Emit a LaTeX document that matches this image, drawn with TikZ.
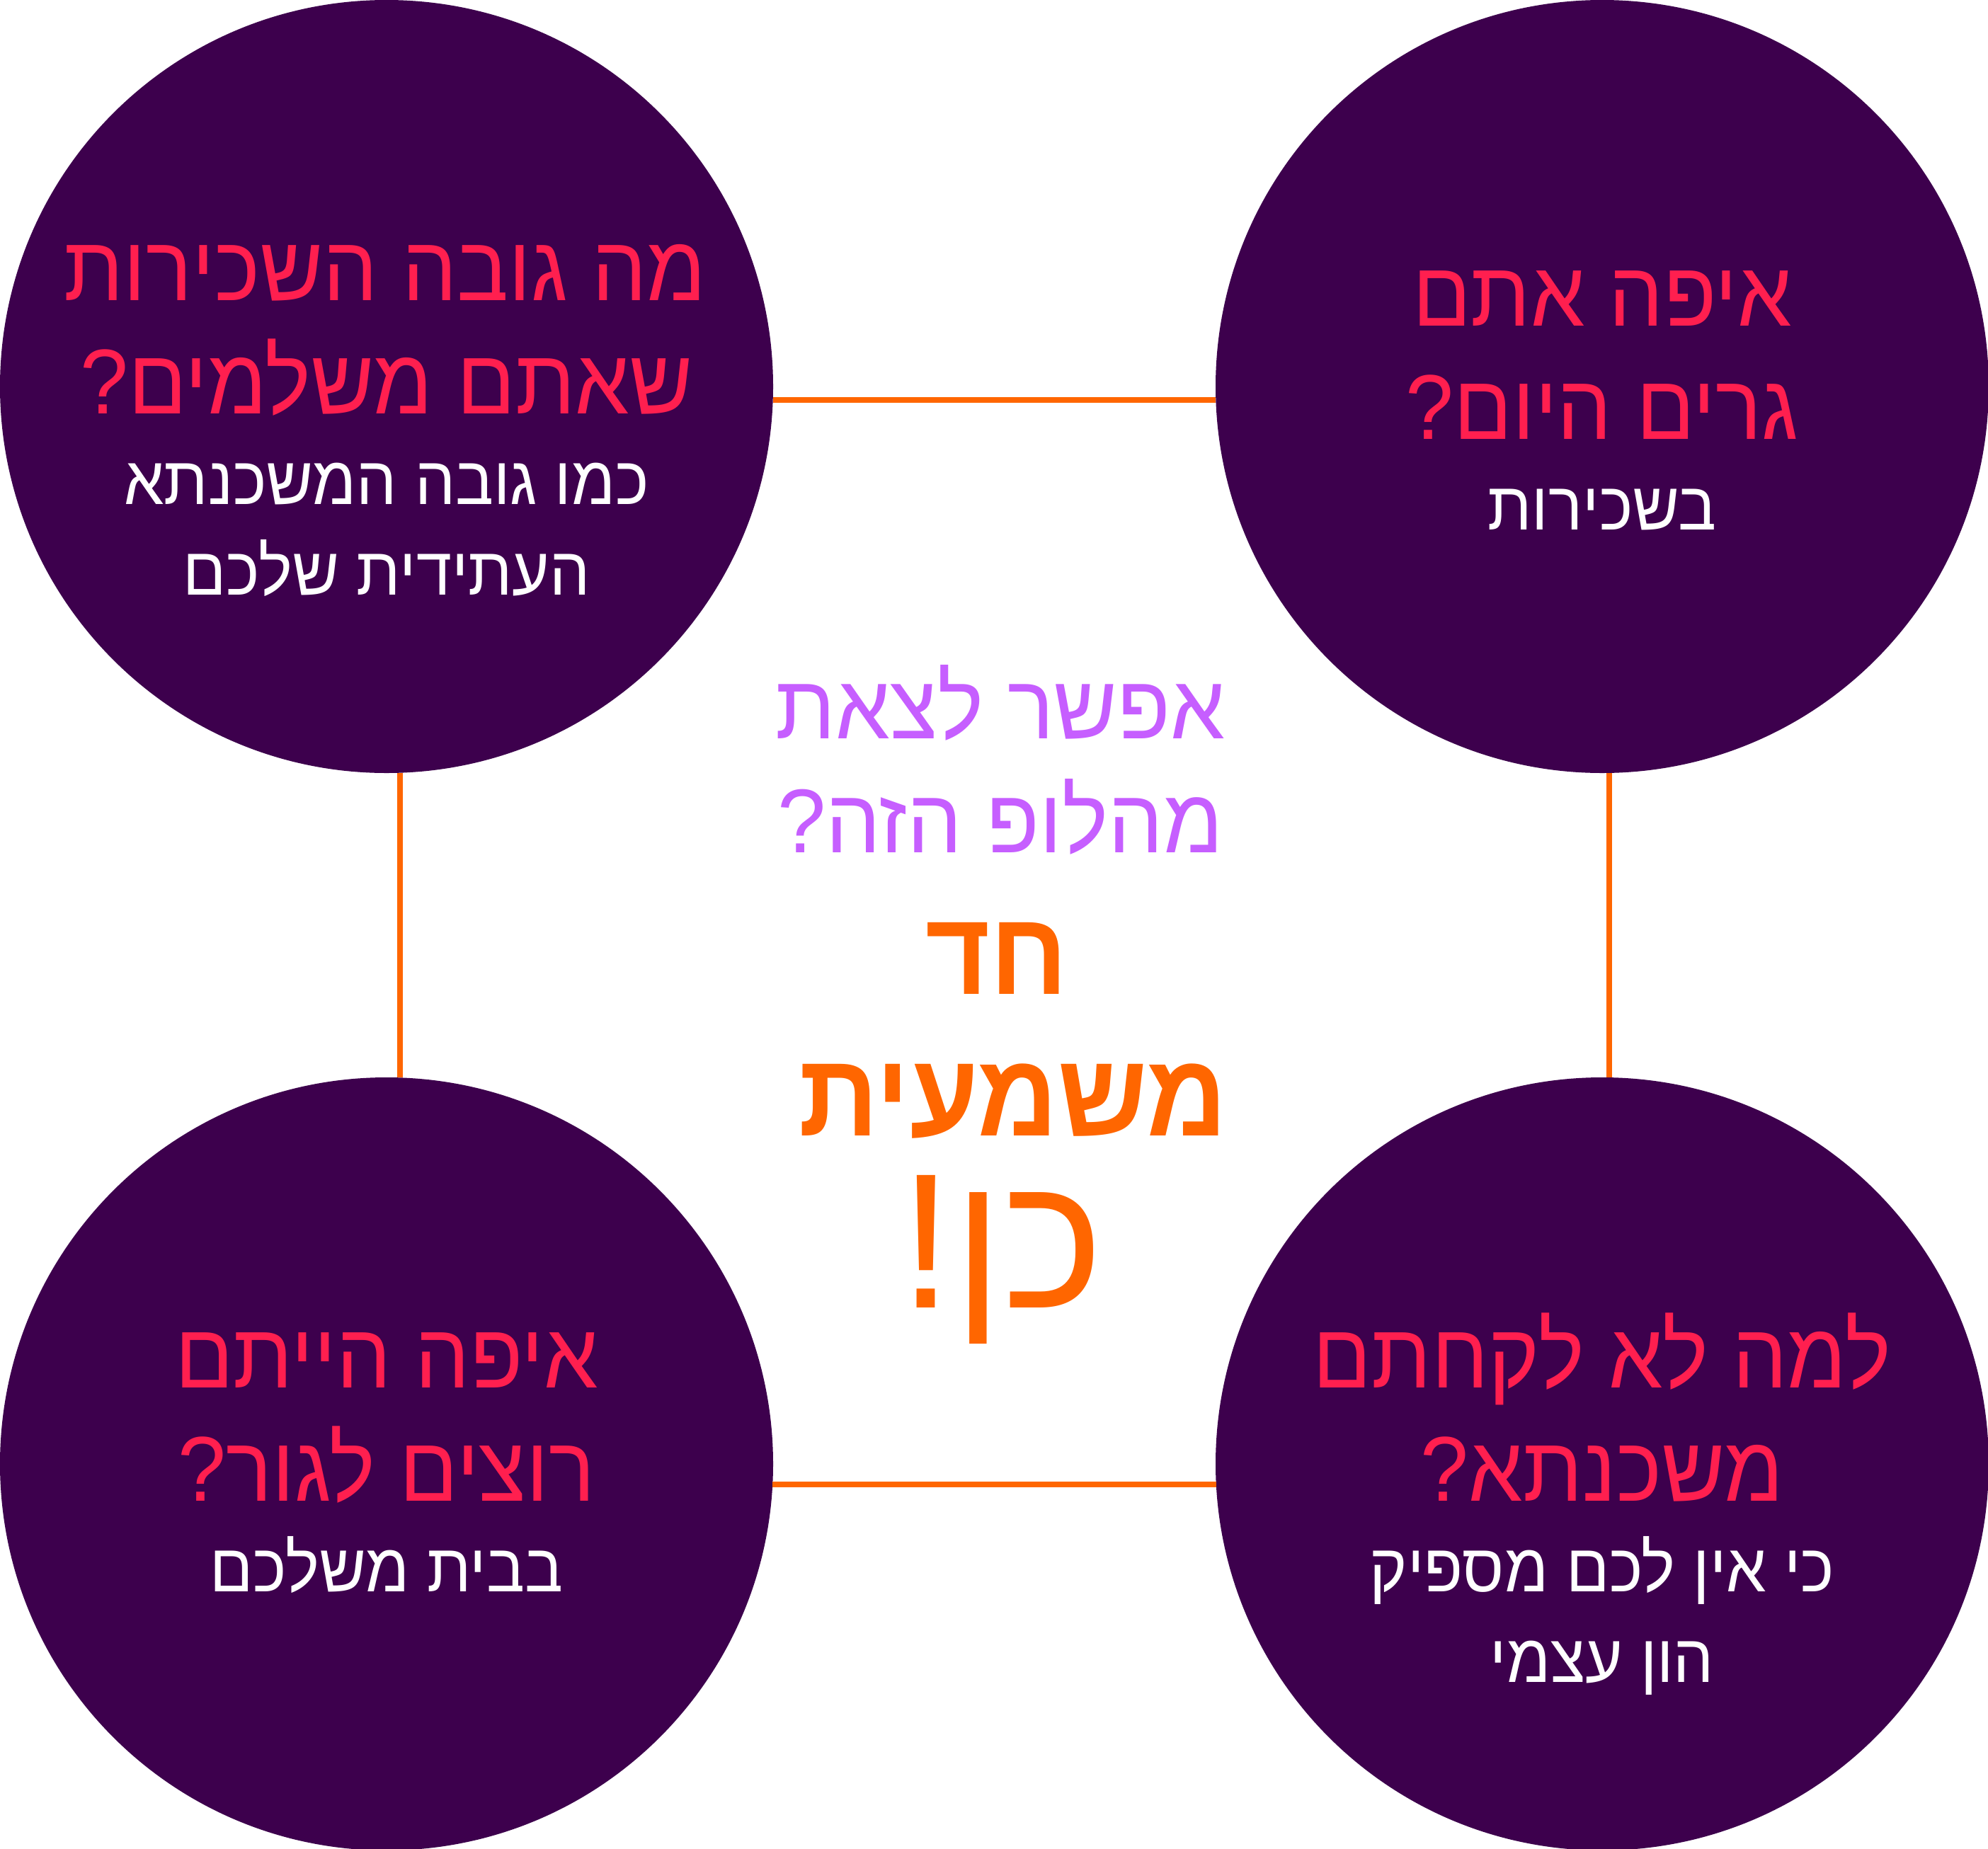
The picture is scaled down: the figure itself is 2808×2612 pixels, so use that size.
\documentclass[tikz,border=0pt]{standalone}
\usepackage{fontspec}
\newfontfamily\heb[Script=Hebrew]{Liberation Sans}
\newfontfamily\hebn[Script=Hebrew, FakeStretch=0.94]{Liberation Sans}
\newfontfamily\hebl[Script=Hebrew, FakeStretch=0.96]{Liberation Sans}
\TeXXeTstate=1
\definecolor{circfill}{HTML}{3D004D}
\definecolor{qred}{HTML}{FF1F4F}
\definecolor{lav}{HTML}{C65EFF}
\definecolor{orng}{HTML}{FF6600}
\tikzset{
  circ/.style={circle, fill=circfill, draw=none, minimum size=1092pt, inner sep=0pt, outer sep=0pt},
  link/.style={draw=orng, line width=8pt},
  qtext/.style={anchor=base, inner sep=0pt, text=qred, font=\hebn\fontsize{130}{130}\selectfont},
  atext/.style={anchor=base, inner sep=0pt, text=white, font=\hebn\fontsize{96}{96}\selectfont},
  ltext/.style={anchor=base, inner sep=0pt, text=lav, font=\hebl\fontsize{128}{128}\selectfont},
  btext/.style={anchor=base, inner sep=0pt, text=orng, font=\hebn\bfseries\fontsize{167}{167}\selectfont},
  ktext/.style={anchor=base, inner sep=0pt, text=orng, font=\heb\fontsize{272}{272}\selectfont},
}
\begin{document}
\begin{tikzpicture}[x=1pt,y=-1pt]
\useasboundingbox (0,0) rectangle (2808,2612);
\fill[white] (0,0) rectangle (2808,2612);
\node[circ] (tl) at (546,546) {};
\node[circ] (tr) at (2263,546) {};
\node[circ] (bl) at (546,2068) {};
\node[circ] (br) at (2263,2068) {};
\draw[link] (tl.-2.73) -- (tr.182.73);
\draw[link] (tl.-88.11) -- (bl.88.11);
\draw[link] (tr.-89.48) -- (br.89.48);
\draw[link] (bl.-3.36) -- (br.183.36);
% top left
\node[qtext] (tl1) at (544,424) {\beginR מה גובה השכירות\endR};
\node[qtext] (tl2) at (546,584) {\beginR שאתם משלמים?\endR};
\node[atext] (tl3) at (546,712) {\beginR כמו גובה המשכנתא\endR};
\node[atext] (tl4) at (546,840) {\beginR העתידית שלכם\endR};
% top right
\node[qtext] (tr1) at (2263,460) {\beginR איפה אתם\endR};
\node[qtext] (tr2) at (2263,620) {\beginR גרים היום?\endR};
\node[atext] (tr3) at (2263,748) {\beginR בשכירות\endR};
% bottom left
\node[qtext] (bl1) at (546,1960) {\beginR איפה הייתם\endR};
\node[qtext] (bl2) at (546,2120) {\beginR רוצים לגור?\endR};
\node[atext] (bl3) at (546,2248) {\beginR בבית משלכם\endR};
% bottom right
\node[qtext] (br1) at (2263,1960) {\beginR למה לא לקחתם\endR};
\node[qtext] (br2) at (2263,2120) {\beginR משכנתא?\endR};
\node[atext] (br3) at (2263,2248) {\beginR כי אין לכם מספיק\endR};
\node[atext] (br4) at (2263,2376) {\beginR הון עצמי\endR};
% center
\node[ltext] (c1) at (1413,1043) {\beginR אפשר לצאת\endR};
\node[ltext] (c2) at (1413,1204) {\beginR מהלופ הזה?\endR};
\node[btext] (c3) at (1408,1404) {\beginR חד\endR};
\node[btext] (c4) at (1431,1604) {\beginR משמעית\endR};
\node[ktext] (c5) at (1415,1847) {\beginR כן!\endR};
\end{tikzpicture}
\end{document}
